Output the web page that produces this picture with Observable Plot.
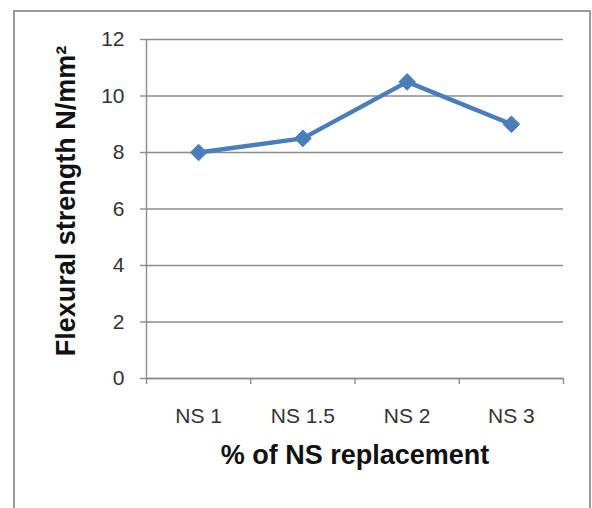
<!DOCTYPE html>
<html><head>
<meta charset="utf-8">
<script src="https://cdn.jsdelivr.net/npm/d3@7"></script>
<script src="https://cdn.jsdelivr.net/npm/@observablehq/plot@0.6"></script>
<style>body{margin:0;background:#fff}</style>
</head><body><div id="chart"></div>
<script>
const categories = ["NS 1", "NS 1.5", "NS 2", "NS 3"];
const strength = [8, 8.5, 10.5, 9];
const yTicks = [0, 2, 4, 6, 8, 10, 12];
const yTitle = "Flexural strength N/mm²";
const xTitle = "% of NS replacement";

const data = categories.map((c, i) => ({cat: c, pos: i + 0.5, v: strength[i]}));
const boundaries = d3.range(categories.length + 1);
const centers = data.map(d => d.pos);
const gray = "#8c8c8c";
const font = "'Liberation Sans', Arial, sans-serif";

const chart = Plot.plot({
  width: 592, height: 508,
  marginLeft: 146, marginRight: 29, marginTop: 39, marginBottom: 130,
  x: {domain: [0, categories.length], axis: null},
  y: {domain: [0, 12], axis: null},
  style: {fontFamily: font, background: "white", overflow: "visible"},
  marks: [
    Plot.gridY(yTicks, {stroke: gray, strokeOpacity: 1, strokeWidth: 1.4}),
    Plot.ruleX([0], {stroke: gray, strokeWidth: 1.4}),
    Plot.ruleY([0], {stroke: gray, strokeWidth: 1.4}),
    Plot.axisY(yTicks, {tickSize: 6, tickPadding: 16, fontSize: 21, stroke: gray, strokeWidth: 1.4, fill: "#333", label: null}),
    Plot.axisX(boundaries, {tickSize: 6, stroke: gray, strokeWidth: 1.4, tickFormat: () => "", label: null}),
    Plot.axisX(centers, {tickSize: 0, tickPadding: 30, fontSize: 21, fill: "#333", tickFormat: (d, i) => categories[i], label: null}),
    Plot.line(data, {x: "pos", y: "v", stroke: "#4a7ebb", strokeWidth: 4.5}),
    Plot.dot(data, {x: "pos", y: "v", symbol: "diamond2", r: 7.5, fill: "#4a7ebb", stroke: "#4a7ebb", strokeWidth: 1}),
    Plot.text([yTitle], {frameAnchor: "left", textAnchor: "middle", rotate: -90, dx: -80, dy: -8, fontSize: 27, fontWeight: "bold", fill: "#111"}),
    Plot.text([xTitle], {frameAnchor: "bottom", dy: 85, fontSize: 27, fontWeight: "bold", fill: "#111"})
  ]
});
d3.select(chart).insert("rect", ":first-child")
  .attr("x", 14).attr("y", 11).attr("width", 576).attr("height", 520)
  .attr("fill", "none").attr("stroke", "#9a9a9a").attr("stroke-width", 2);
document.getElementById("chart").append(chart);
</script>
</body></html>
